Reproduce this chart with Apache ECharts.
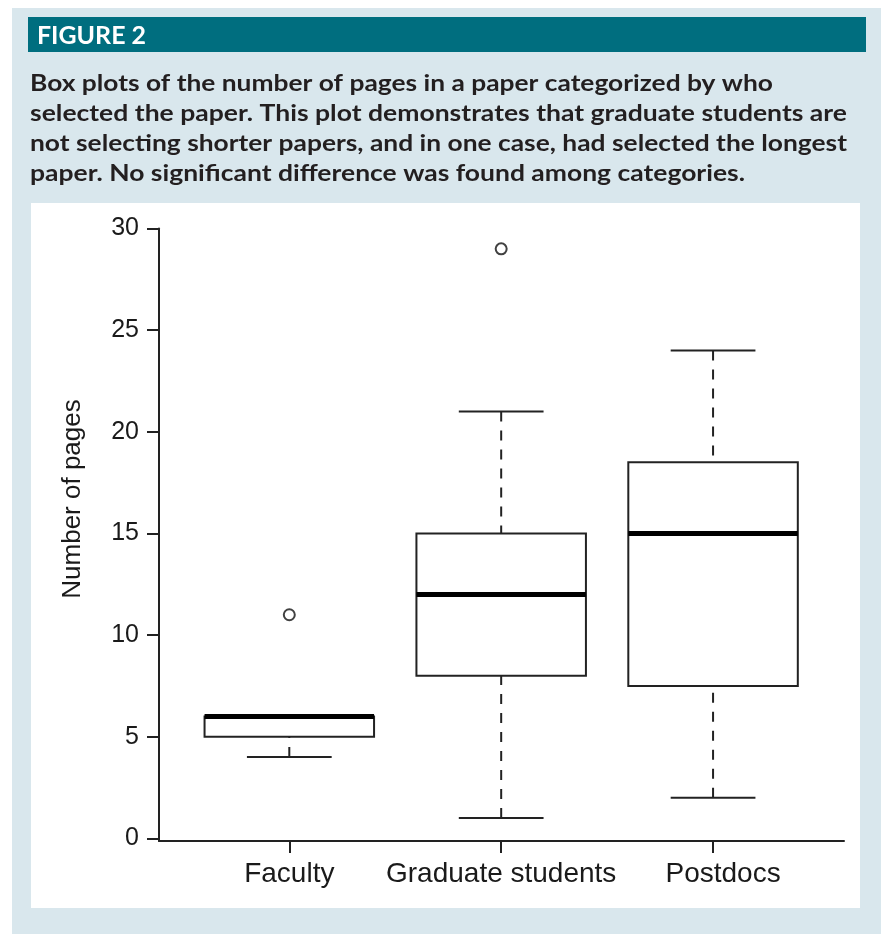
<!DOCTYPE html>
<html><head><meta charset="utf-8">
<script src="https://cdn.jsdelivr.net/npm/echarts@6/dist/echarts.min.js"></script>
<style>html,body{margin:0;padding:0;background:#fff}#c{width:881px;height:934px}</style>
</head><body><div id="c"></div>
<script>
// ---- data ----
const categories = ['Faculty', 'Graduate students', 'Postdocs'];
const whiskerLow = [4, 1, 2];
const q1 = [5, 8, 7.5];
const median = [6, 12, 15];
const q3 = [6, 15, 18.5];
const whiskerHigh = [6, 21, 24];
const outliers = [[0, 11], [1, 29]]; // [category index, value]
const yTicks = [0, 5, 10, 15, 20, 25, 30];
const yTitle = 'Number of pages';
const figLabel = 'FIGURE 2';
const captionLines = [
  'Box plots of the number of pages in a paper categorized by who',
  'selected the paper. This plot demonstrates that graduate students are',
  'not selecting shorter papers, and in one case, had selected the longest',
  'paper. No significant difference was found among categories.'
];

// ---- layout helpers ----
const mctx = document.createElement('canvas').getContext('2d');
function fitScale(text, font, target) { mctx.font = font; return target / mctx.measureText(text).width; }

const capFont = 'bold 23px Lato';
const capTargets = [743, 817, 817, 715];
const capBaselines = [90.7, 120.7, 150.7, 180.7];
const figFont = 'bold 24px Lato';

const graphics = [
  { type: 'rect', z: -10, shape: { x: 12, y: 8, width: 881, height: 940 }, style: { fill: '#d9e7ed' }, silent: true },
  { type: 'rect', z: -9, shape: { x: 28, y: 17, width: 838, height: 35 }, style: { fill: '#006e7f' }, silent: true },
  { type: 'rect', z: -9, shape: { x: 31, y: 203, width: 829, height: 705 }, style: { fill: '#ffffff' }, silent: true },
  { type: 'text', z: 5, x: 37, y: 43.3 - 7.2, scaleX: fitScale(figLabel, figFont, 109), originX: 0,
    style: { text: figLabel, x: 0, y: 0, font: figFont, fill: '#ffffff', verticalAlign: 'middle' } },
  { type: 'text', z: 5, x: 73, y: 499, rotation: Math.PI / 2,
    style: { text: yTitle, x: 0, y: 0, font: '26px "Liberation Sans", Arial', fill: '#1a1a1a', align: 'center', verticalAlign: 'middle' } }
];
captionLines.forEach((t, i) => {
  graphics.push({ type: 'text', z: 5, x: 30, y: capBaselines[i] - 7, scaleX: fitScale(t, capFont, capTargets[i]), originX: 0,
    style: { text: t, x: 0, y: 0, font: capFont, fill: '#231f20', verticalAlign: 'middle' } });
});

const boxData = categories.map((c, i) => [i + 1, whiskerLow[i], q1[i], median[i], q3[i], whiskerHigh[i]]);
const outlierData = outliers.map(o => [o[0] + 1, o[1]]);

const lineCol = '#222';
function renderBox(params, api) {
  const x = api.value(0);
  const lo = api.value(1), a = api.value(2), m = api.value(3), b = api.value(4), hi = api.value(5);
  const p = v => api.coord([x, v]);
  const cx = p(m)[0];
  const hb = api.size([0.8, 0])[0] / 2;
  const hc = api.size([0.4, 0])[0] / 2;
  const ch = [];
  const dash = { stroke: lineCol, lineWidth: 2, lineDash: [10, 9], fill: null };
  const solid = { stroke: lineCol, lineWidth: 2, fill: null };
  if (hi > b) ch.push({ type: 'line', shape: { x1: cx, y1: p(hi)[1], x2: cx, y2: p(b)[1] }, style: dash });
  if (lo < a) ch.push({ type: 'line', shape: { x1: cx, y1: p(lo)[1], x2: cx, y2: p(a)[1] }, style: dash });
  ch.push({ type: 'line', shape: { x1: cx - hc, y1: p(hi)[1], x2: cx + hc, y2: p(hi)[1] }, style: solid });
  ch.push({ type: 'line', shape: { x1: cx - hc, y1: p(lo)[1], x2: cx + hc, y2: p(lo)[1] }, style: solid });
  ch.push({ type: 'rect', shape: { x: cx - hb, y: p(b)[1], width: 2 * hb, height: p(a)[1] - p(b)[1] },
    style: { stroke: lineCol, lineWidth: 2, fill: '#fff' } });
  ch.push({ type: 'line', shape: { x1: cx - hb, y1: p(m)[1], x2: cx + hb, y2: p(m)[1] }, style: { stroke: '#000', lineWidth: 5 } });
  return { type: 'group', children: ch };
}

const chart = echarts.init(document.getElementById('c'), null, { renderer: 'canvas' });
chart.setOption({
  backgroundColor: '#ffffff',
  animation: false,
  graphic: graphics,
  grid: { left: 159, right: 37, top: 228.5, bottom: 93, containLabel: false },
  xAxis: {
    type: 'value', min: 0.385, max: 3.618,
    axisLine: { show: true, onZero: false, lineStyle: { color: lineCol, width: 2 } },
    axisTick: { show: true, customValues: [1, 2, 3], length: 12, lineStyle: { color: lineCol, width: 2 } },
    axisLabel: { customValues: [1, 2, 3],
      formatter: v => { const i = Math.round(v) - 1; return i === 2 ? '{s|' + categories[i] + '}' : (categories[i] || ''); },
      rich: { s: { padding: [0, 0, 0, 20], fontSize: 28, fontFamily: '"Liberation Sans", Arial', color: '#1a1a1a' } },
      margin: 19, fontSize: 28, fontFamily: '"Liberation Sans", Arial', color: '#1a1a1a' },
    splitLine: { show: false }
  },
  yAxis: {
    type: 'value', min: -0.13, max: 30,
    axisLine: { show: true, onZero: false, lineStyle: { color: lineCol, width: 2 } },
    axisTick: { show: true, customValues: yTicks, length: 12, lineStyle: { color: lineCol, width: 2 } },
    axisLabel: { customValues: yTicks, margin: 20, fontSize: 25, fontFamily: '"Liberation Sans", Arial', color: '#1a1a1a' },
    splitLine: { show: false }
  },
  series: [
    { type: 'custom', renderItem: renderBox, data: boxData, encode: { x: 0, y: [1, 2, 3, 4, 5] }, clip: false, z: 3 },
    { type: 'scatter', data: outlierData, symbol: 'circle', symbolSize: 11, z: 4,
      itemStyle: { color: 'rgba(0,0,0,0)', borderColor: '#111', borderWidth: 2 } }
  ]
});
</script></body></html>
